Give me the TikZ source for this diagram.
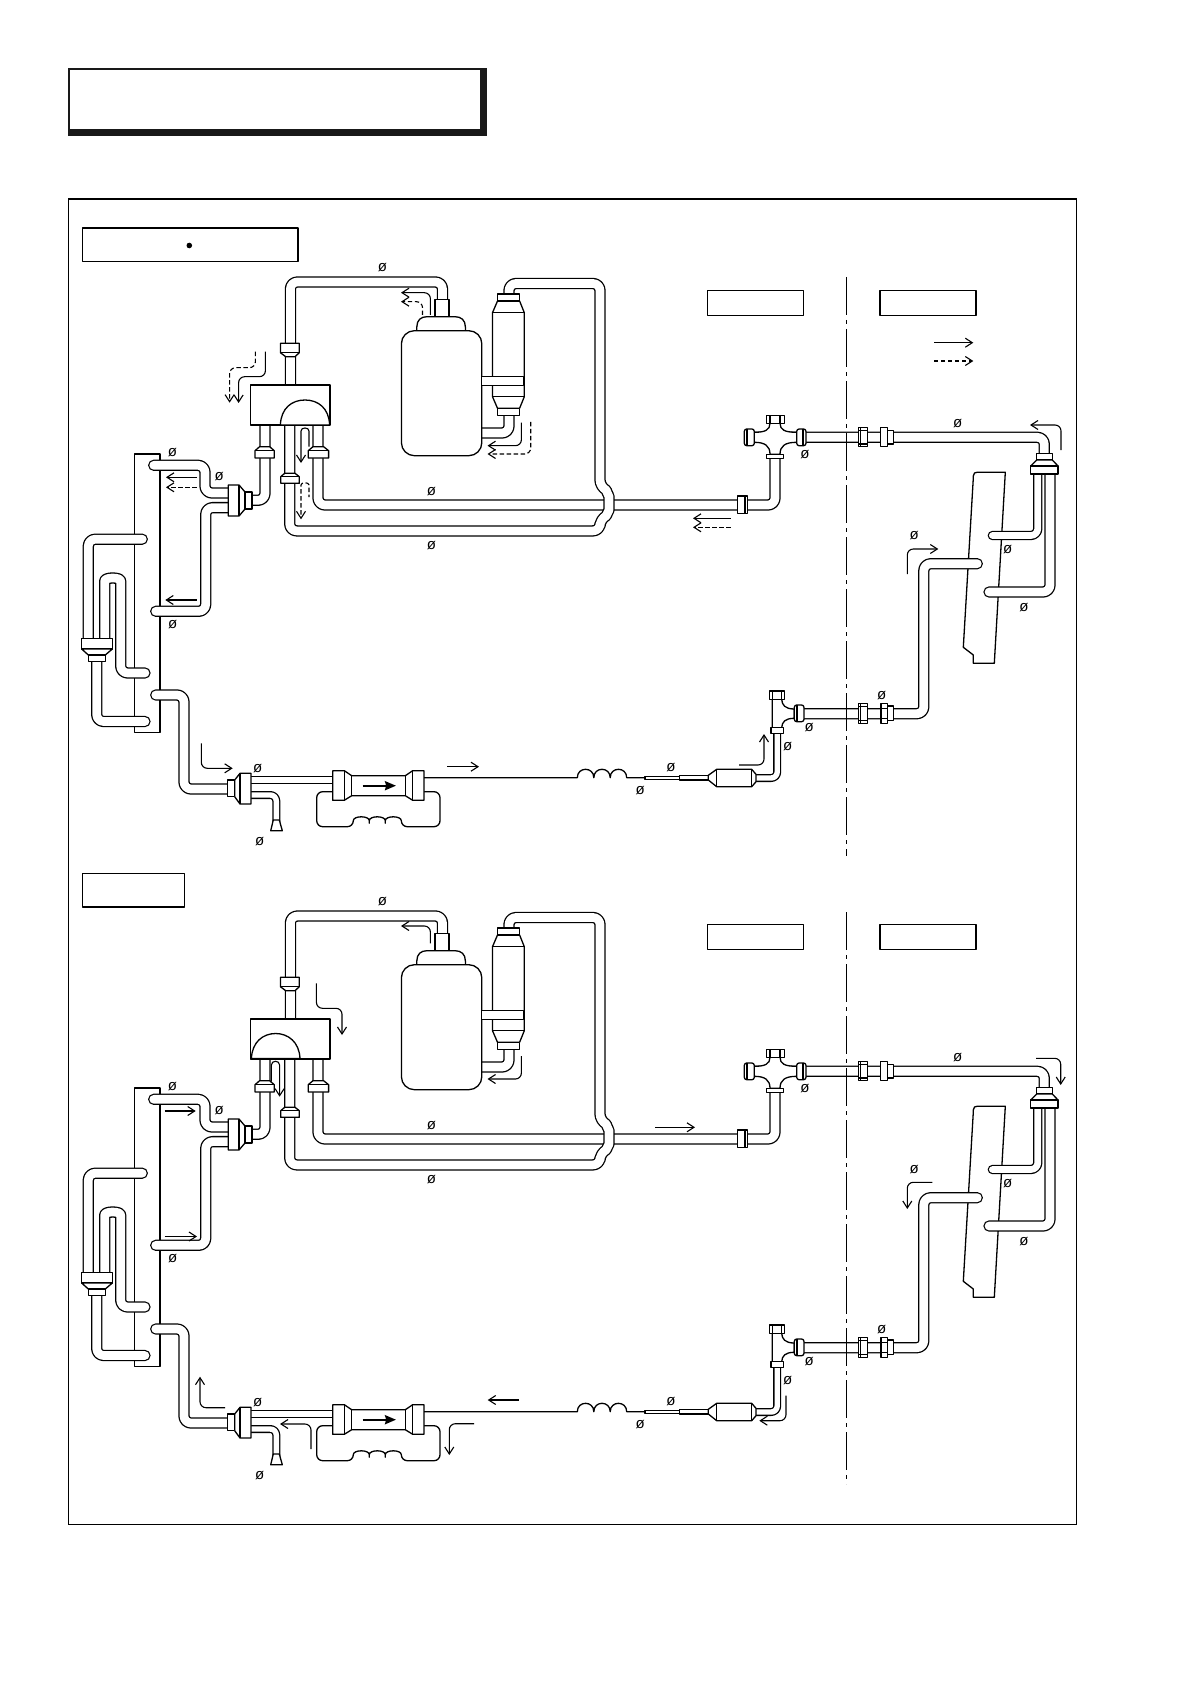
\documentclass[tikz,border=0pt]{standalone}
\usepackage{fontspec}
\setmainfont{Liberation Sans}
\usetikzlibrary{arrows.meta}
\tikzset{
  x=0.5pt,y=-0.5pt,
  ln/.style={line width=0.65pt,draw=black,line join=round},
  pipe/.style={ln,double=white,double distance=4.35pt,rounded corners=3.5pt,line cap=round},
  pipes/.style={ln,double=white,double distance=3.35pt,rounded corners=3.5pt,line cap=round},
  pipet/.style={ln,double=white,double distance=2.7pt,rounded corners=3pt,line cap=round},
  fitg/.style={ln,fill=white},
  lbl/.style={font=\fontsize{7.5}{8}\selectfont,inner sep=0pt,text=black},
  flow/.style={line width=0.55pt,draw=black,rounded corners=3pt,-{Straight Barb[length=3.5pt,width=4.5pt]}},
  flowd/.style={flow,dash pattern=on 2.2pt off 1.3pt},
  bold/.style={line width=1.1pt,-{Stealth[length=5.5pt,width=4.5pt,inset=0.6pt]}},
  axisln/.style={line width=0.65pt,dash pattern=on 19pt off 2.5pt on 2pt off 2.5pt},
}
\newcommand\sharedpart{%
  % plates
  \draw[ln,fill=white] (134.7,454) rectangle (160,732.3);
  \draw[ln] (973.3,478) -- (973.3,476) .. controls (973.5,473) and (975,472.3) .. (977,472.3) -- (1005.3,472.3) -- (994.3,663.3) -- (973.3,663.3) -- (973.3,655) -- (963.3,647.3) -- cycle;
  % top and valve pipes
  \draw[pipe] (290.4,390) -- (290.4,282) -- (442.5,282) -- (442.5,305);
  \draw[pipe] (265,420) -- (265,500.3) -- (250,500.3);
  \draw[pipe] (318,420) -- (318,505) -- (775,505) -- (775,456);
  \draw[pipe] (509,296) -- (509,283.5) -- (600,283.5) -- (600,487) .. controls (606,490) and (609,497) .. (609,503) .. controls (609,510) and (606,516) .. (600,519) -- (600,530.9) -- (289.7,530.9) -- (289.7,420);
  % compressor
  \draw[pipe] (509,412) -- (509,433) -- (480,433);
  \draw[fitg] (435,299.3) rectangle (449,318);
  \draw[fitg] (416.8,332) -- (416.8,327) .. controls (416.8,320) and (421,316.7) .. (427,316.7) -- (455,316.7) .. controls (461,316.7) and (465.4,320) .. (465.4,327) -- (465.4,332);
  \draw[fitg,rounded corners=6.5pt] (401.4,330.7) rectangle (481.8,455.7);
  % accumulator
  \draw[fitg] (497.5,301) -- (492.5,312.7) -- (492.5,396.7) -- (497.5,408.3) -- (519.6,408.3) -- (524.3,396.7) -- (524.3,312.7) -- (519.6,301) -- cycle;
  \draw[ln] (492.5,312.7) -- (524.3,312.7) (492.5,396.7) -- (524.3,396.7);
  \draw[fitg] (497.5,294) rectangle (519.6,301);
  \draw[fitg] (497.5,408.3) rectangle (519.6,415.3);
  \draw[fitg] (481.8,376.7) rectangle (523.6,385.3);
  % valve body
  \draw[fitg] (250.4,385) rectangle (330,425);
  % valve side fittings
  \draw[fitg] (285.7,356.7) -- (280.4,352.7) -- (280.4,343.3) -- (299.3,343.3) -- (299.3,352.7) -- (295,356.7) -- cycle;
  \draw[ln] (280.4,352.7) -- (299.3,352.7);
  \draw[fitg] (259.6,446.7) -- (269.6,446.7) -- (274.3,450.7) -- (274.3,458) -- (255,458) -- (255,450.7) -- cycle;
  \draw[ln] (255,450.7) -- (274.3,450.7);
  \draw[fitg] (313,446.7) -- (323.6,446.7) -- (328.6,450.7) -- (328.6,458) -- (308.2,458) -- (308.2,450.7) -- cycle;
  \draw[ln] (308.2,450.7) -- (328.6,450.7);
  \draw[fitg] (284.7,473.3) -- (295,473.3) -- (299.3,476.7) -- (299.3,483.3) -- (280.7,483.3) -- (280.7,476.7) -- cycle;
  \draw[ln] (280.7,476.7) -- (299.3,476.7);
  % condenser side left
  \draw[pipe] (153.7,465.3) -- (205,465.3) -- (205,493) -- (232,493);
  \draw[pipe] (232,507.6) -- (205.7,507.6) -- (205.7,611.3) -- (155.7,611.3);
  \draw[pipe] (142.3,539.2) -- (88.3,539.2) -- (88.3,642);
  \draw[pipe] (145,673) -- (120.7,673) -- (120.7,588) .. controls (120.7,577) and (104.7,577) .. (104.7,588) -- (104.7,642);
  \draw[pipe] (96.7,655) -- (96.7,721.5) -- (145,721.5);
  \draw[pipe] (155.7,695) -- (184,695) -- (184,789) -- (230,789);
  \draw[fitg] (228.3,485) -- (239,485) -- (245,492) -- (245,509) -- (239,516) -- (228.3,516) -- cycle;
  \draw[ln] (239,485) -- (239,516);
  \draw[fitg] (245,492) rectangle (252,509);
  \draw[fitg] (81.7,638.3) rectangle (112.3,649);
  \draw[fitg] (81.7,649) -- (88.3,655) -- (105.3,655) -- (112.3,649) -- cycle;
  \draw[fitg] (88.3,655) rectangle (105.3,661.7);
  % expansion line
  \draw[pipet] (248,780) -- (335,780);
  \draw[pipet] (248,795) -- (276.3,795) -- (276.3,824);
  \draw[fitg] (273.3,820) -- (279.3,820) -- (282.3,830.7) -- (270.7,830.7) -- cycle;
  \draw[fitg] (234.7,780) -- (240,773.3) -- (251,773.3) -- (251,804) -- (240,804) -- (234.7,796.7) -- cycle;
  \draw[ln] (240,773.3) -- (240,804);
  \draw[fitg] (227.3,780) rectangle (234.7,796.7);
  \draw[ln,rounded corners=3pt] (332.7,791.7) -- (316.7,791.7) -- (316.7,826.7) -- (353.3,826.7)
    .. controls (353.3,815.5) and (369.3,815.5) .. (369.3,826.7)
    .. controls (369.3,815.5) and (385.3,815.5) .. (385.3,826.7)
    .. controls (385.3,815.5) and (401.3,815.5) .. (401.3,826.7)
    -- (440,826.7) -- (440,791.7) -- (424,791.7);
  \draw[fitg] (344.3,770.7) -- (351.7,775.7) -- (405.3,775.7) -- (412.7,770.7) -- (424,770.7) -- (424,800.3) -- (412.7,800.3) -- (405.3,795.7) -- (351.7,795.7) -- (344.3,800.3) -- (332.7,800.3) -- (332.7,770.7) -- cycle;
  \draw[ln] (344.3,770.7) -- (344.3,800.3) (351.7,775.7) -- (351.7,795.7) (405.3,775.7) -- (405.3,795.7) (412.7,770.7) -- (412.7,800.3);
  \draw[bold] (362.7,785.7) -- (396,785.7);
  \draw[ln] (424,777.7) -- (577.3,777.7)
    .. controls (577.3,766.5) and (593.8,766.5) .. (593.8,777.7)
    .. controls (593.8,766.5) and (610.2,766.5) .. (610.2,777.7)
    .. controls (610.2,766.5) and (626.7,766.5) .. (626.7,777.7)
    -- (645,777.7);
  \draw[fitg] (645,776.3) rectangle (679.3,779.3);
  \draw[fitg] (679.3,775.3) rectangle (708.3,780);
  \draw[pipet] (755,778) -- (777.2,778) -- (777.2,730);
  \draw[fitg] (708.3,775.3) -- (716.7,769.3) -- (751.7,769.3) -- (756,774.3) -- (756,781.7) -- (751.7,786.7) -- (716.7,786.7) -- (708.3,780) -- cycle;
  \draw[ln] (716.7,769.3) -- (716.7,786.7) (751.7,769.3) -- (751.7,786.7);
  % right hand upper
  \draw[pipe] (750,437.3) -- (1044.3,437.3) -- (1044.3,456);
  \draw[fitg] (754.3,432.3) .. controls (765,432.3) and (770,430) .. (770,423.3) -- (780,423.3) .. controls (780,430) and (785,432.3) .. (796.7,432.3) -- (796.7,442.3) .. controls (785,442.3) and (780,446) .. (780,454.3) -- (770,454.3) .. controls (770,446) and (765,442.3) .. (754.3,442.3) -- cycle;
  \draw[fitg] (766.3,415.7) rectangle (784.3,423.3);
  \draw[ln] (770,415.7) -- (770,423.3) (780,415.7) -- (780,423.3);
  \draw[fitg] (766.3,454.3) rectangle (783.7,458.7);
  \draw[fitg,rounded corners=1.2pt] (744.3,429) rectangle (754.3,445.7);
  \draw[ln] (747,429) -- (747,445.7);
  \draw[fitg,rounded corners=1.2pt] (796.7,429) rectangle (806,445.7);
  \draw[ln] (803,429) -- (803,445.7);
  \draw[fitg] (737.3,496) rectangle (747.7,513.3);
  \draw[ln] (745,496) -- (745,513.3);
  \draw[fitg] (858.3,427.7) rectangle (867.7,446.7);
  \draw[ln] (860.5,427.7) -- (860.5,446.7) (858.3,430.5) -- (867.7,430.5) (858.3,444) -- (867.7,444);
  \draw[fitg] (887.7,430.7) rectangle (893.7,444);
  \draw[fitg] (880.3,427.7) rectangle (887.7,446.7);
  % right hand plate pipes
  \draw[pipe] (800,713.7) -- (923.8,713.7) -- (923.8,563.7) -- (977.3,563.7);
  \draw[pipes] (1037.8,470) -- (1037.8,535.5) -- (992.3,535.5);
  \draw[pipe] (1050,470) -- (1050,592) -- (989,592);
  \draw[fitg] (1036.7,453.3) rectangle (1052.3,460);
  \draw[fitg] (1036.7,460) -- (1030.7,466) -- (1058,466) -- (1052.3,460) -- cycle;
  \draw[fitg] (1030.7,466) rectangle (1058,474);
  % right hand lower
  \draw[fitg] (772.3,699.3) -- (772.3,727.7) -- (781.7,727.7) .. controls (782,722) and (785,718.3) .. (794.3,718.3) -- (794.3,709) .. controls (785,709) and (782,705) .. (781.7,699.3) -- cycle;
  \draw[fitg] (769.3,691) rectangle (784.7,699.3);
  \draw[ln] (772.3,691) -- (772.3,699.3) (781.7,691) -- (781.7,699.3);
  \draw[fitg] (771,727.7) rectangle (783.3,733.7);
  \draw[fitg,rounded corners=1.2pt] (794.3,705) rectangle (804,721.7);
  \draw[ln] (797,705) -- (797,721.7);
  \draw[fitg] (858.3,703.3) rectangle (867.7,723.3);
  \draw[ln] (860.5,703.3) -- (860.5,723.3) (858.3,706.2) -- (867.7,706.2) (858.3,720.5) -- (867.7,720.5);
  \draw[fitg] (887.7,706) rectangle (893.7,720.7);
  \draw[fitg] (881,703.3) rectangle (887.7,723.3);
  \draw[ln] (881,708.5) -- (887.7,708.5) (881,718.5) -- (887.7,718.5);
  % boxes
  \draw[ln] (707.3,290.3) rectangle (803.3,315.3);
  \draw[ln] (880,290.3) rectangle (976,315.3);
  % diameter labels
  \node[lbl] (d1) at (382.5,267.7) {ø};
  \node[lbl] (d2) at (172.5,452.7) {ø};
  \node[lbl] (d3) at (219.3,476.7) {ø};
  \node[lbl] (d4) at (431.4,492) {ø};
  \node[lbl] (d5) at (431.4,545.7) {ø};
  \node[lbl] (d6) at (172.7,625) {ø};
  \node[lbl] (d7) at (257.7,768.3) {ø};
  \node[lbl] (d8) at (259.7,841.3) {ø};
  \node[lbl] (d9) at (957.7,423.3) {ø};
  \node[lbl] (d10) at (805,455) {ø};
  \node[lbl] (d11) at (1007.7,549.3) {ø};
  \node[lbl] (d12) at (914.3,536) {ø};
  \node[lbl] (d13) at (1024,607.3) {ø};
  \node[lbl] (d14) at (881.7,695.7) {ø};
  \node[lbl] (d15) at (809.3,728) {ø};
  \node[lbl] (d16) at (787.7,746.7) {ø};
  \node[lbl] (d17) at (671,767.3) {ø};
  \node[lbl] (d18) at (640.3,791) {ø};
}
\begin{document}
\begin{tikzpicture}
\useasboundingbox (0,0) rectangle (1190,1684);
\fill[white] (0,0) rectangle (1190,1684);
% heading box
\fill[black!90] (68,68) rectangle (486.7,136);
\fill[white] (70,70) rectangle (480,129);
% main frame
\draw[line width=0.6pt] (68.5,199) rectangle (1076.7,1524.5);
\draw[line width=1pt] (68,199.5) -- (1077,199.5);
% first section
\draw[ln] (82.5,228) rectangle (298,261.5);
\node[circle,fill=black,inner sep=0pt,minimum size=2.8pt] (dot) at (189.3,245.5) {};
\begin{scope}[name prefix=a-]
  \sharedpart
\end{scope}
\draw[fitg] (280.4,425) .. controls (281,408) and (292,400) .. (305,400) .. controls (318,400) and (329,408) .. (329.6,425) -- cycle;
\draw[axisln] (846.7,277) -- (846.7,856);
% first section flows
\draw[flow] (430.4,315) -- (430.4,292.7) -- (401,292.7);
\draw[flowd] (422.5,315) -- (422.5,301.7) -- (401,301.7);
\draw[flow] (265.4,351.7) -- (265.4,376.7) -- (238.6,376.7) -- (238.6,403);
\draw[flowd] (255.4,351.7) -- (255.4,367.7) -- (229.6,367.7) -- (229.6,402.7);
\draw[flow] (309,446.7) -- (309,437) .. controls (309,427) and (301,427) .. (301,437) -- (301,463);
\draw[flowd] (309,495) -- (309,491) .. controls (309,482) and (301,482) .. (301,491) -- (301,519.3);
\draw[flow] (521.4,422.7) -- (521.4,445.7) -- (487.5,445.7);
\draw[flowd] (530.7,422) -- (530.7,454) -- (487.5,454);
\draw[flow] (196.8,477.3) -- (166,477.3);
\draw[flowd] (196.8,487.3) -- (166,487.3);
\draw[flow] (196.7,600) -- (165.3,600);
\draw[flow] (201.3,743.3) -- (201.3,768.3) -- (232.7,768.3);
\draw[flow] (447.3,766.7) -- (479,766.7);
\draw[flow] (739,765) -- (764,765) -- (764,734);
\draw[flow] (1061,450) -- (1061,425) -- (1030,425);
\draw[flow] (907.3,574) -- (907.3,549) -- (938.3,549);
\draw[flow] (730.7,518.3) -- (693,518.3);
\draw[flowd] (730.7,527.3) -- (693,527.3);
\draw[flow] (934,342.7) -- (973.3,342.7);
\draw[flowd] (934,361) -- (973.3,361);
% second section
\draw[ln] (82.5,873.5) rectangle (184.6,907);
\begin{scope}[yshift=-317pt,name prefix=b-]
  \sharedpart
\end{scope}
\draw[fitg] (251.4,1058.6) .. controls (252,1042) and (263,1033.5) .. (275.7,1033.5) .. controls (288,1033.5) and (299.4,1042) .. (300,1058.6) -- cycle;
\draw[axisln] (846.7,912) -- (846.7,1484);
% second section flows
\draw[flow] (430.4,943.3) -- (430.4,926) -- (401,926);
\draw[flow] (316.4,983.3) -- (316.4,1008.3) -- (342,1008.3) -- (342,1035);
\draw[flow] (271.4,1081.7) -- (271.4,1071) .. controls (271.4,1060) and (279.6,1060) .. (279.6,1071) -- (279.6,1096.7);
\draw[flow] (521.4,1056) -- (521.4,1079) -- (487.5,1079);
\draw[flow] (164.6,1111) -- (195.7,1111);
\draw[flow] (164.6,1236.5) -- (197,1236.5);
\draw[flow] (655,1127.3) -- (695,1127.3);
\draw[flow] (1036,1058.3) -- (1060.7,1058.3) -- (1060.7,1085);
\draw[flow] (932.3,1182.3) -- (907.3,1182.3) -- (907.3,1209);
\draw[flow] (786,1395.7) -- (786,1420.7) -- (759.3,1420.7);
\draw[flow] (225,1407.7) -- (200,1407.7) -- (200,1376.7);
\draw[flow] (519,1400) -- (487.7,1400);
\draw[flow] (311,1449) -- (311,1424) -- (280,1424);
\draw[flow] (474,1423.7) -- (449.3,1423.7) -- (449.3,1455);
\end{tikzpicture}
\end{document}
